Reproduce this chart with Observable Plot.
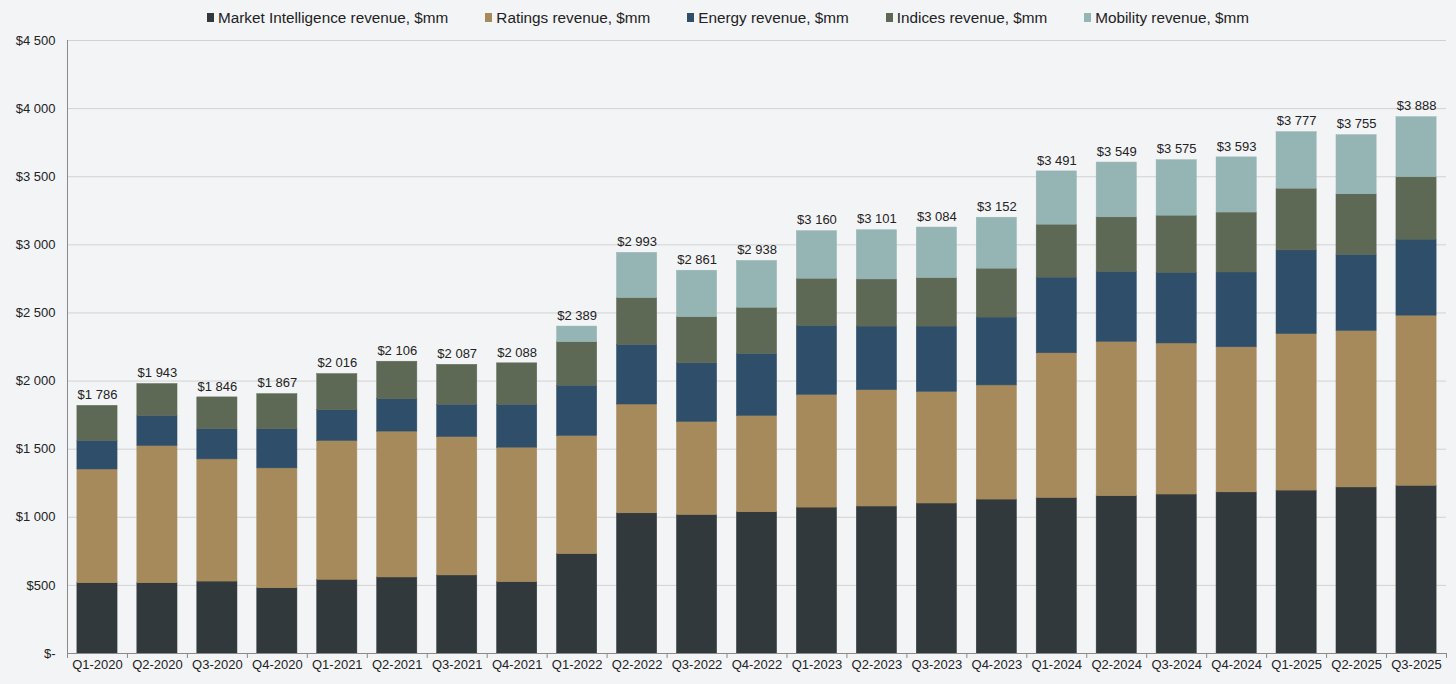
<!DOCTYPE html>
<html>
<head>
<meta charset="utf-8">
<script src="https://cdn.jsdelivr.net/npm/d3@7"></script>
<script src="https://cdn.jsdelivr.net/npm/@observablehq/plot@0.6"></script>
<style>
  html, body { margin: 0; padding: 0; background: #f3f4f6; }
  body { width: 1456px; height: 684px; overflow: hidden; font-family: "Liberation Sans", Arial, sans-serif; }
  #legend { height: 30px; display: flex; justify-content: center; align-items: center; gap: 37px; font-size: 15.3px; color: #222; padding-top: 5px; box-sizing: border-box; }
  #legend .item { display: flex; align-items: center; }
  #legend .sw { width: 7px; height: 9px; margin-right: 4px; }
</style>
</head>
<body>
<div id="legend"></div>
<div id="chart"></div>
<script>
const quarters = ["Q1-2020","Q2-2020","Q3-2020","Q4-2020","Q1-2021","Q2-2021","Q3-2021","Q4-2021",
  "Q1-2022","Q2-2022","Q3-2022","Q4-2022","Q1-2023","Q2-2023","Q3-2023","Q4-2023",
  "Q1-2024","Q2-2024","Q3-2024","Q4-2024","Q1-2025","Q2-2025","Q3-2025"];
const marketIntelligence = [516,516,528,479,541,558,573,524,730,1029,1017,1037,1071,1079,1101,1130,1142,1155,1167,1183,1196,1219,1231];
const ratings = [835,1007,897,880,1019,1071,1016,987,867,799,683,707,828,854,820,838,1062,1133,1109,1065,1149,1149,1249];
const energy = [209,221,221,287,226,238,236,314,368,437,430,455,506,467,479,498,555,514,519,549,614,558,558];
const indices = [258,234,234,258,265,275,294,305,320,344,339,339,346,346,356,359,389,400,419,440,453,445,458];
const mobility = [0,0,0,0,0,0,0,0,115,332,341,344,349,361,371,374,391,402,407,405,415,434,441];
const totalLabels = [1786,1943,1846,1867,2016,2106,2087,2088,2389,2993,2861,2938,3160,3101,3084,3152,3491,3549,3575,3593,3777,3755,3888];
const seriesNames = ["Market Intelligence revenue, $mm","Ratings revenue, $mm","Energy revenue, $mm","Indices revenue, $mm","Mobility revenue, $mm"];
const seriesColors = ["#32393d","#a68a5c","#2e4e69","#5e6955","#95b4b4"];
const yTicks = [0,500,1000,1500,2000,2500,3000,3500,4000,4500];

const seriesValues = [marketIntelligence, ratings, energy, indices, mobility];
const table = [];
quarters.forEach((q, i) => {
  seriesNames.forEach((s, k) => table.push({q, s, v: seriesValues[k][i]}));
});
const stackTops = quarters.map((q, i) => d3.sum(seriesValues, arr => arr[i]));
const money = v => v === 0 ? "$-" : "$" + d3.format(",")(v).replace(/,/g, " ");

// legend
const lg = document.getElementById("legend");
seriesNames.forEach((s, k) => {
  const it = document.createElement("div"); it.className = "item";
  const sw = document.createElement("span"); sw.className = "sw"; sw.style.background = seriesColors[k];
  const tx = document.createElement("span"); tx.textContent = s;
  it.appendChild(sw); it.appendChild(tx); lg.appendChild(it);
});

const W = 1456, ML = 67, MR = 10;
const n = quarters.length;
const step = (W - ML - MR) / n;
const pad = 0.33;
const axisColor = "#8a8a8a";

const plot = Plot.plot({
  width: W,
  height: 654,
  marginTop: 10,
  marginBottom: 31,
  marginLeft: ML,
  marginRight: MR,
  style: { background: "transparent", fontFamily: "'Liberation Sans', Arial, sans-serif", fontSize: "13px", color: "#222" },
  x: { domain: quarters, round: false, paddingInner: pad, paddingOuter: pad / 2, label: null },
  y: { domain: [0, 4500], label: null },
  color: { domain: seriesNames, range: seriesColors },
  marks: [
    Plot.gridY(yTicks, { stroke: "#d2d2d2", strokeOpacity: 1 }),
    Plot.barY(table, { x: "q", y: "v", fill: "s", order: seriesNames, stroke: "s", strokeWidth: 0.5 }),
    Plot.ruleY([0], { stroke: axisColor }),
    Plot.ruleX([quarters[0]], { x: d => d, dx: -step / 2, y1: 0, y2: 4500, stroke: axisColor }),
    Plot.ruleX(quarters, { x: d => d, dx: -step / 2, y1: 0, y2: 0, insetBottom: -5, stroke: axisColor }),
    Plot.ruleX([quarters[n - 1]], { x: d => d, dx: step / 2, y1: 0, y2: 0, insetBottom: -5, stroke: axisColor }),
    Plot.text(quarters, { x: d => d, y: (d, i) => stackTops[i], text: (d, i) => money(totalLabels[i]), dy: -11, fill: "#222", fontSize: 13 }),
    Plot.axisY(yTicks, { tickFormat: money, tickSize: 0, tickPadding: 12, fontSize: 13, label: null }),
    Plot.axisX({ tickSize: 0, tickPadding: 6, fontSize: 13, label: null })
  ]
});
document.getElementById("chart").appendChild(plot);
</script>
</body>
</html>
